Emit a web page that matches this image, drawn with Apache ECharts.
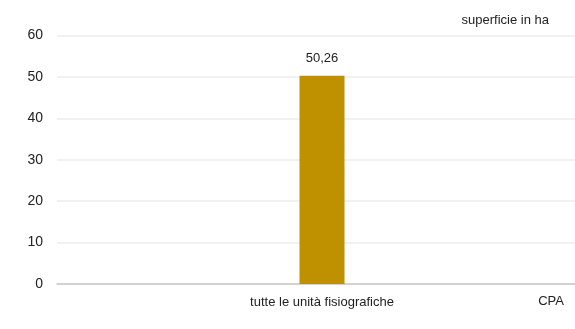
<!DOCTYPE html>
<html>
<head>
<meta charset="utf-8">
<script src="https://cdn.jsdelivr.net/npm/echarts@6/dist/echarts.min.js"></script>
<style>html,body{margin:0;padding:0;background:#fff}#c{width:575px;height:329px}</style>
</head>
<body>
<div id="c"></div>
<script>
const categories = ["tutte le unità fisiografiche"];
const values = [50.26];
const yTicks = [0, 10, 20, 30, 40, 50, 60];
const unitLabel = "superficie in ha";
const xName = "CPA";

const FONT = "'Liberation Sans', Arial, sans-serif";
const chart = echarts.init(document.getElementById('c'), null, {renderer: 'canvas'});
chart.setOption({
  animation: false,
  backgroundColor: '#ffffff',
  title: {
    text: unitLabel, right: 21, top: 9,
    textStyle: {fontFamily: FONT, fontSize: 13, fontWeight: 'normal', color: '#222'}
  },
  graphic: [{
    type: 'text', right: 11, top: 295,
    style: {text: xName, fontFamily: FONT, fontSize: 13, fill: '#222'}
  }],
  grid: {left: 57, width: 530, top: 35.5, height: 248.5, containLabel: false, outerBoundsMode: 'none'},
  xAxis: {
    type: 'category', data: categories,
    axisLine: {lineStyle: {color: '#c8c8c8', width: 1.5}},
    axisTick: {show: false},
    axisLabel: {fontFamily: FONT, fontSize: 13, color: '#222', margin: 12}
  },
  yAxis: {
    type: 'value', min: yTicks[0], max: yTicks[yTicks.length - 1], interval: 10,
    axisLine: {show: false}, axisTick: {show: false},
    splitLine: {lineStyle: {color: '#ececec', width: 1.5}},
    axisLabel: {fontFamily: FONT, fontSize: 14, color: '#222', margin: 14}
  },
  series: [{
    type: 'bar', data: values, barWidth: 45,
    itemStyle: {color: '#BF9000'},
    label: {
      show: true, position: 'top', distance: 11,
      fontFamily: FONT, fontSize: 13, color: '#222',
      formatter: p => p.value.toFixed(2).replace('.', ',')
    }
  }]
});
</script>
</body>
</html>
